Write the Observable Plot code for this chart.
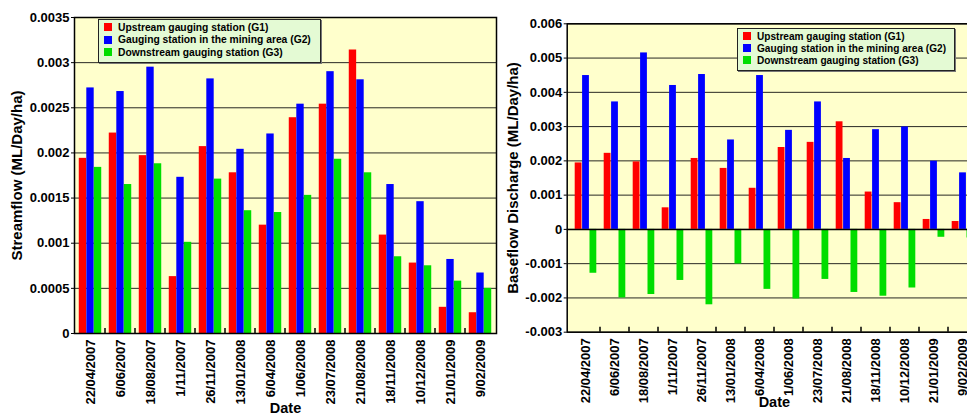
<!DOCTYPE html>
<html>
<head>
<meta charset="utf-8">
<script src="https://cdn.jsdelivr.net/npm/d3@7"></script>
<script src="https://cdn.jsdelivr.net/npm/@observablehq/plot@0.6"></script>
<style>
  html, body { margin: 0; padding: 0; background: #fff; overflow: hidden; }
  #wrap { position: relative; width: 967px; height: 415px; overflow: hidden; font-family: "Liberation Sans", Arial, sans-serif; }
  .chart { position: absolute; top: 0; }
  .legend { position: absolute; background: #e4fad4; border: 1.5px solid #222; box-shadow: 1px 1px 0 #777; box-sizing: border-box; font-weight: bold; color: #000; }
  .legend .row { display: flex; align-items: center; white-space: nowrap; }
  .legend .sw { display: inline-block; width: 8px; height: 8px; margin-right: 6px; }
</style>
</head>
<body>
<div id="wrap"></div>
<script>
const dates = ["22/04/2007","6/06/2007","18/08/2007","1/11/2007","26/11/2007","13/01/2008","6/04/2008","1/06/2008","23/07/2008","21/08/2008","18/11/2008","10/12/2008","21/01/2009","9/02/2009"];
const seriesNames = ["Upstream gauging station (G1)","Gauging station in the mining area (G2)","Downstream gauging station (G3)"];
const seriesColors = ["#ff0000","#0000ff","#00dd00"];

const streamG1 = [0.00194,0.00222,0.00197,0.00063,0.00207,0.00178,0.00120,0.00239,0.00254,0.00314,0.00109,0.00078,0.00029,0.00023];
const streamG2 = [0.00272,0.00268,0.00295,0.00173,0.00282,0.00204,0.00221,0.00254,0.00290,0.00281,0.00165,0.00146,0.00082,0.00067];
const streamG3 = [0.00184,0.00165,0.00188,0.00101,0.00171,0.00136,0.00134,0.00153,0.00193,0.00178,0.00085,0.00075,0.00058,0.00050];

const baseG1 = [0.00194,0.00222,0.00197,0.00063,0.00207,0.00178,0.00120,0.00239,0.00254,0.00314,0.00109,0.00078,0.00029,0.00023];
const baseG2 = [0.00449,0.00372,0.00515,0.00420,0.00452,0.00261,0.00449,0.00289,0.00372,0.00207,0.00291,0.00299,0.00199,0.00165];
const baseG3 = [-0.00128,-0.00200,-0.00190,-0.00149,-0.00220,-0.00101,-0.00175,-0.00203,-0.00146,-0.00184,-0.00195,-0.00171,-0.00023,-0.00025];

const streamTicks = [0,0.0005,0.001,0.0015,0.002,0.0025,0.003,0.0035];
const baseTicks = [-0.003,-0.002,-0.001,0,0.001,0.002,0.003,0.004,0.005,0.006];

const streamLabel = "Streamflow (ML/Day/ha)";
const baseLabel = "Baseflow Discharge (ML/Day/ha)";
const xLabel = "Date";

const fmt = d => String(+d.toFixed(6));

function makeChart(cfg) {
  const {series, domain, ticks, label, width, ml, mr, mt, mb, labelDx, dateDy, zeroRule} = cfg;
  const bw = (width - ml - mr) / dates.length;
  const pad = bw * 0.125, barW = bw * 0.25;
  const bars = series.map((vals, s) => Plot.barY(
    dates.map((d, i) => ({date: d, value: vals[i]})),
    {x: "date", y: "value", fill: seriesColors[s],
     insetLeft: pad + s * barW, insetRight: bw - pad - (s + 1) * barW}
  ));
  const chart = Plot.plot({
    width, height: 415,
    marginLeft: ml, marginRight: mr, marginTop: mt, marginBottom: mb,
    style: {fontFamily: '"Liberation Sans", Arial, sans-serif', fontWeight: "bold", fontSize: "13px", color: "#000", background: "transparent", overflow: "visible"},
    x: {domain: dates, padding: 0, label: null},
    y: {domain, label: null},
    marks: [
      Plot.frame({fill: "#ffffcc", stroke: null}),
      Plot.gridY(ticks, {stroke: "#111", strokeOpacity: 0.9, strokeWidth: 1}),
      ...bars,
      zeroRule ? Plot.ruleY([0], {stroke: "#000", strokeWidth: 1.5}) : null,
      Plot.frame({stroke: "#000", strokeWidth: 1.5}),
      Plot.axisY(ticks, {tickFormat: fmt, tickSize: 3, tickPadding: 2, fontSize: 13, label: null}),
      Plot.axisX({tickRotate: -90, tickSize: 0, tickPadding: 6, fontSize: 13, label: null}),
      Plot.text([label], {text: d => d, frameAnchor: "left", dx: labelDx, rotate: -90, textAnchor: "middle", fontSize: 15, fontWeight: "bold"}),
      Plot.text([xLabel], {text: d => d, frameAnchor: "bottom", dy: dateDy, lineAnchor: "top", fontSize: 14.5, fontWeight: "bold"})
    ]
  });
  // inward tick marks at the band boundaries
  const sx = chart.scale("x");
  const sy = chart.scale("y");
  const yb = sy.apply(domain[0]);
  const g = d3.select(chart).append("g").attr("stroke", "#000").attr("stroke-width", 1.5);
  dates.slice(1).forEach(d => {
    const x = sx.apply(d);
    g.append("line").attr("x1", x).attr("x2", x).attr("y1", yb).attr("y2", yb - 5);
  });
  return chart;
}

function makeLegend(left, top, w, h, fontSize, rowH) {
  const div = document.createElement("div");
  div.className = "legend";
  Object.assign(div.style, {left: left + "px", top: top + "px", width: w + "px", height: h + "px", fontSize: fontSize + "px", padding: "1px 0 0 5px"});
  seriesNames.forEach((n, i) => {
    const r = document.createElement("div");
    r.className = "row";
    r.style.height = rowH + "px";
    const sw = document.createElement("span");
    sw.className = "sw";
    sw.style.background = seriesColors[i];
    const t = document.createElement("span");
    t.textContent = n;
    r.appendChild(sw); r.appendChild(t);
    div.appendChild(r);
  });
  return div;
}

const wrap = document.getElementById("wrap");

const left = makeChart({series: [streamG1, streamG2, streamG3], domain: [0, 0.0035], ticks: streamTicks, label: streamLabel,
  width: 500, ml: 74, mr: 4, mt: 17, mb: 82, labelDx: -57.5, dateDy: 69, zeroRule: false});
left.classList.add("chart");
left.style.left = "0px";
wrap.appendChild(left);

const right = makeChart({series: [baseG1, baseG2, baseG3], domain: [-0.003, 0.006], ticks: baseTicks, label: baseLabel,
  width: 500, ml: 76.7, mr: 9, mt: 23.3, mb: 83.3, labelDx: -54.5, dateDy: 65, zeroRule: true});
right.classList.add("chart");
right.style.left = "490px";
wrap.appendChild(right);

wrap.appendChild(makeLegend(98, 19, 223, 44, 10.3, 12.5));
wrap.appendChild(makeLegend(737, 28, 218, 43, 10.1, 12));
</script>
</body>
</html>
